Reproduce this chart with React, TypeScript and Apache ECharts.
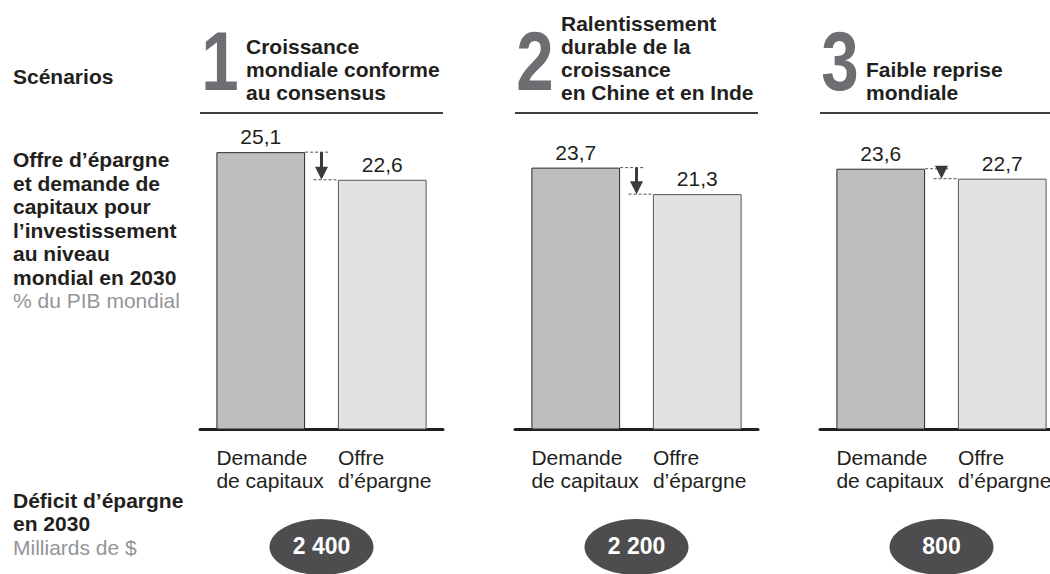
import React, { useEffect, useRef } from 'react';
import * as echarts from 'echarts';

// ---------- data ----------
const CATEGORIES = ['Demande\nde capitaux', 'Offre\nd’épargne'];
const SCENARIO_NUMBERS = ['1', '2', '3'];
const SCENARIO_TITLES = [
  'Croissance\nmondiale conforme\nau consensus',
  'Ralentissement\ndurable de la\ncroissance\nen Chine et en Inde',
  'Faible reprise\nmondiale',
];
const DEMANDE = [25.1, 23.7, 23.6];
const OFFRE = [22.6, 21.3, 22.7];
const DEFICIT = [2400, 2200, 800];
const Y_MAX = 30;

// ---------- layout ----------
const W = 1050;
const H = 574;
const CANVAS_W = 1080; // wider drawing area; the last panel is cut at the page edge
const GRID_LEFT = [200, 515, 820];
const GRID_W = 243;
const GRID_TOP = 98;
const GRID_BOTTOM = 144.5;
const BAR_GAP = 0.27;

const FONT = '"Liberation Sans", Arial, Helvetica, sans-serif';
const DARK = '#231f20';
const GREY_TEXT = '#939598';
const DIGIT_GREY = '#6d6e71';
const ARROW = '#3a3a3a';

const fmtValue = (v: number) => v.toFixed(1).replace('.', ',');
const fmtDeficit = (v: number) => String(v).replace(/\B(?=(\d{3})+(?!\d))/g, ' ');

function buildOption() {
  const grid: any[] = [];
  const xAxis: any[] = [];
  const yAxis: any[] = [];
  const series: any[] = [];
  const graphic: any[] = [];

  GRID_LEFT.forEach((left, i) => {
    grid.push({ left, width: GRID_W, top: GRID_TOP, bottom: GRID_BOTTOM });
    xAxis.push({
      type: 'category',
      gridIndex: i,
      data: CATEGORIES,
      axisLine: { show: true, lineStyle: { color: DARK, width: 3 } },
      axisTick: { show: false },
      axisLabel: { show: false },
      splitLine: { show: false },
    });
    yAxis.push({ type: 'value', gridIndex: i, min: 0, max: Y_MAX, show: false });

    series.push({
      type: 'bar',
      xAxisIndex: i,
      yAxisIndex: i,
      barCategoryGap: BAR_GAP * 100 + '%',
      barGap: '-100%',
      z: 2,
      data: [
        { value: DEMANDE[i], itemStyle: { color: '#bcbec0', borderColor: '#2b2b2b', borderWidth: 1 } },
        { value: OFFRE[i], itemStyle: { color: '#e1e2e3', borderColor: '#555555', borderWidth: 1 } },
      ],
      label: {
        show: true,
        position: 'top',
        distance: 5,
        formatter: (p: any) => fmtValue(p.value),
        fontFamily: FONT,
        fontSize: 21,
        color: DARK,
      },
    });

    series.push({
      type: 'bar',
      xAxisIndex: i,
      yAxisIndex: i,
      barCategoryGap: BAR_GAP * 100 + '%',
      barGap: '-100%',
      silent: true,
      z: 1,
      itemStyle: { color: 'rgba(0,0,0,0)', borderWidth: 0 },
      data: [DEMANDE[i], OFFRE[i]],
      label: {
        show: true,
        position: 'insideBottomLeft',
        distance: 0,
        align: 'left',
        verticalAlign: 'top',
        offset: [0, 16],
        formatter: '{b}',
        lineHeight: 23.5,
        fontFamily: FONT,
        fontSize: 21,
        color: DARK,
      },
    });

    series.push({
      type: 'custom',
      xAxisIndex: i,
      yAxisIndex: i,
      clip: false,
      silent: true,
      z: 3,
      encode: { x: 0, y: [1, 2] },
      data: [[0, DEMANDE[i], OFFRE[i]]],
      renderItem: (params: any, api: any) => {
        const d = api.value(1);
        const o = api.value(2);
        const pD = api.coord([0, d]);
        const pO = api.coord([1, o]);
        const band = pO[0] - pD[0];
        const barW = band * (1 - BAR_GAP);
        const x1 = pD[0] + barW / 2;
        const x2 = pO[0] - barW / 2;
        const mx = (x1 + x2) / 2;
        const yD = pD[1];
        const yO = pO[1];
        const headLen = 13;
        const headHalf = 6.5;
        const dash = { stroke: '#555555', lineWidth: 1, lineDash: [3, 2], fill: null };
        const children: any[] = [
          { type: 'line', shape: { x1, y1: yD, x2: mx + 8, y2: yD }, style: dash },
          { type: 'line', shape: { x1: mx - 8, y1: yO, x2, y2: yO }, style: dash },
        ];
        if (yO - headLen > yD + 1) {
          children.push({
            type: 'line',
            shape: { x1: mx, y1: yD, x2: mx, y2: yO - headLen + 1 },
            style: { stroke: ARROW, lineWidth: 3 },
          });
        }
        children.push({
          type: 'polygon',
          shape: { points: [[mx - headHalf, yO - headLen], [mx + headHalf, yO - headLen], [mx, yO]] },
          style: { fill: ARROW },
        });
        return { type: 'group', children };
      },
    });

    // header: big number, title, rule
    graphic.push({
      type: 'text',
      x: left + 20,
      y: 61,
      scaleX: 0.8,
      style: {
        text: SCENARIO_NUMBERS[i],
        font: `bold 84px ${FONT}`,
        fill: DIGIT_GREY,
        align: 'center',
        verticalAlign: 'middle',
      },
    });
    graphic.push({
      type: 'text',
      x: left + 46,
      y: 103.4,
      style: {
        text: SCENARIO_TITLES[i],
        font: `bold 21px ${FONT}`,
        lineHeight: 22.8,
        fill: DARK,
        align: 'left',
        verticalAlign: 'bottom',
      },
    });
    graphic.push({
      type: 'line',
      shape: { x1: left, y1: 113, x2: left + GRID_W, y2: 113 },
      style: { stroke: '#404041', lineWidth: 2 },
    });

    // deficit ellipse
    const cx = left + GRID_W / 2;
    graphic.push({
      type: 'ellipse',
      shape: { cx, cy: 547, rx: 52, ry: 28 },
      style: { fill: '#4d4d4f' },
    });
    graphic.push({
      type: 'text',
      x: cx,
      y: 546,
      style: {
        text: fmtDeficit(DEFICIT[i]),
        font: `bold 23px ${FONT}`,
        fill: '#ffffff',
        align: 'center',
        verticalAlign: 'middle',
      },
    });
  });

  // left-hand labels
  const leftText = (text: string, y: number, bold: boolean, color: string) => ({
    type: 'text',
    x: 13,
    y,
    style: {
      text,
      font: `${bold ? 'bold ' : ''}21px ${FONT}`,
      lineHeight: 23.5,
      fill: color,
      align: 'left',
      verticalAlign: 'top',
    },
  });
  graphic.push(leftText('Scénarios', 64.5, true, DARK));
  graphic.push(
    leftText(
      'Offre d’épargne\net demande de\ncapitaux pour\nl’investissement\nau niveau\nmondial en 2030',
      147.75,
      true,
      DARK
    )
  );
  graphic.push(leftText('% du PIB mondial', 288.75, false, GREY_TEXT));
  graphic.push(leftText('Déficit d’épargne\nen 2030', 488.5, true, DARK));
  graphic.push(leftText('Milliards de $', 535.5, false, GREY_TEXT));

  return {
    animation: false,
    backgroundColor: '#ffffff',
    textStyle: { fontFamily: FONT },
    grid,
    xAxis,
    yAxis,
    series,
    graphic,
  };
}

export default function App() {
  const ref = useRef<HTMLDivElement>(null);
  useEffect(() => {
    if (!ref.current) return;
    const chart = echarts.init(ref.current, null, { renderer: 'svg' });
    chart.setOption(buildOption() as any);
    return () => chart.dispose();
  }, []);
  return (
    <div
      style={{
        position: 'absolute',
        left: 0,
        top: 0,
        width: W,
        height: H,
        overflow: 'hidden',
        background: '#ffffff',
      }}
    >
      <div ref={ref} style={{ width: CANVAS_W, height: H }} />
    </div>
  );
}
